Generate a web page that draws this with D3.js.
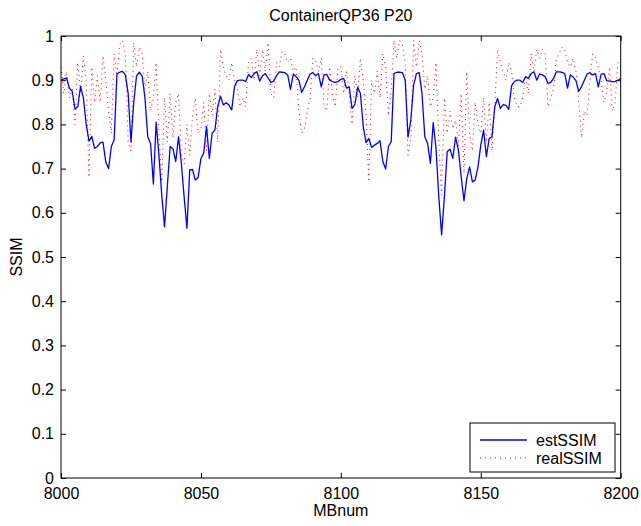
<!DOCTYPE html>
<html>
<head>
<meta charset="utf-8">
<script src="https://cdn.jsdelivr.net/npm/d3@7"></script>
<style>
  html, body { margin: 0; padding: 0; background: #fff; }
  svg text { font-family: "Liberation Sans", Arial, Helvetica, sans-serif; fill: #000; }
</style>
</head>
<body>
<svg id="chart" width="641" height="526"></svg>
<script>
// Macroblock index range
const mbStart = 8000;
const mbEnd = 8200;

// Estimated SSIM per macroblock (8000..8200)
const estSSIM = [
  0.900, 0.903, 0.905, 0.882, 0.875, 0.835, 0.840, 0.886, 0.860, 0.800,
  0.762, 0.773, 0.746, 0.750, 0.758, 0.760, 0.715, 0.700, 0.750, 0.765,
  0.915, 0.918, 0.920, 0.912, 0.870, 0.760, 0.850, 0.910, 0.918, 0.910,
  0.860, 0.772, 0.757, 0.665, 0.805, 0.730, 0.640, 0.568, 0.660, 0.750,
  0.745, 0.716, 0.772, 0.712, 0.636, 0.565, 0.697, 0.698, 0.674, 0.680,
  0.723, 0.735, 0.795, 0.723, 0.780, 0.787, 0.840, 0.864, 0.844, 0.849,
  0.844, 0.833, 0.885, 0.899, 0.900, 0.900, 0.897, 0.913, 0.906, 0.915,
  0.919, 0.898, 0.910, 0.915, 0.905, 0.895, 0.898, 0.910, 0.919, 0.918,
  0.917, 0.912, 0.879, 0.914, 0.908, 0.900, 0.872, 0.885, 0.900, 0.914,
  0.917, 0.910, 0.915, 0.885, 0.912, 0.913, 0.900, 0.897, 0.895, 0.897,
  0.902, 0.904, 0.882, 0.885, 0.836, 0.845, 0.884, 0.870, 0.795, 0.759,
  0.768, 0.748, 0.753, 0.757, 0.763, 0.716, 0.699, 0.750, 0.761, 0.915,
  0.918, 0.918, 0.917, 0.900, 0.771, 0.810, 0.889, 0.915, 0.917, 0.870,
  0.772, 0.757, 0.712, 0.804, 0.746, 0.636, 0.550, 0.636, 0.738, 0.744,
  0.723, 0.771, 0.742, 0.682, 0.627, 0.678, 0.704, 0.670, 0.674, 0.704,
  0.753, 0.787, 0.727, 0.768, 0.772, 0.840, 0.859, 0.836, 0.845, 0.843,
  0.834, 0.887, 0.897, 0.900, 0.900, 0.895, 0.908, 0.904, 0.915, 0.919,
  0.900, 0.914, 0.912, 0.908, 0.893, 0.895, 0.904, 0.919, 0.919, 0.918,
  0.915, 0.882, 0.912, 0.907, 0.899, 0.875, 0.885, 0.900, 0.914, 0.917,
  0.912, 0.915, 0.885, 0.913, 0.915, 0.899, 0.898, 0.897, 0.897, 0.900,
  0.904
];

// Measured SSIM per macroblock (8000..8200)
const realSSIM = [
  0.93, 0.87, 0.92, 0.86, 0.88, 0.80, 0.94, 0.87, 0.955, 0.90,
  0.68, 0.93, 0.85, 0.91, 0.85, 0.955, 0.90, 0.83, 0.78, 0.96,
  0.91, 0.98, 0.99, 0.96, 0.76, 0.74, 0.985, 0.93, 0.975, 0.96,
  0.88, 0.92, 0.83, 0.86, 0.94, 0.78, 0.67, 0.86, 0.76, 0.87,
  0.77, 0.85, 0.87, 0.73, 0.71, 0.80, 0.73, 0.82, 0.86, 0.78,
  0.79, 0.85, 0.74, 0.87, 0.82, 0.88, 0.76, 0.97, 0.93, 0.91,
  0.90, 0.94, 0.90, 0.88, 0.84, 0.86, 0.84, 0.94, 0.95, 0.90,
  0.97, 0.91, 0.97, 0.92, 0.985, 0.87, 0.86, 0.94, 0.93, 0.965,
  0.96, 0.94, 0.95, 0.92, 0.93, 0.83, 0.78, 0.79, 0.83, 0.86,
  0.95, 0.945, 0.92, 0.95, 0.84, 0.83, 0.93, 0.87, 0.84, 0.93,
  0.93, 0.87, 0.92, 0.87, 0.80, 0.91, 0.86, 0.95, 0.90, 0.82,
  0.67, 0.90, 0.87, 0.92, 0.86, 0.96, 0.93, 0.82, 0.88, 0.99,
  0.95, 0.99, 0.98, 0.94, 0.73, 0.77, 0.99, 0.93, 0.99, 0.96,
  0.88, 0.91, 0.84, 0.86, 0.94, 0.76, 0.64, 0.86, 0.78, 0.83,
  0.79, 0.81, 0.75, 0.87, 0.69, 0.92, 0.78, 0.74, 0.85, 0.80,
  0.78, 0.86, 0.76, 0.85, 0.74, 0.84, 0.97, 0.94, 0.92, 0.90,
  0.94, 0.92, 0.86, 0.84, 0.84, 0.86, 0.91, 0.87, 0.96, 0.92,
  0.97, 0.95, 0.97, 0.96, 0.84, 0.86, 0.88, 0.95, 0.96, 0.975,
  0.97, 0.94, 0.93, 0.95, 0.92, 0.85, 0.77, 0.83, 0.82, 0.90,
  0.96, 0.95, 0.93, 0.90, 0.85, 0.87, 0.93, 0.83, 0.85, 0.94,
  0.93
];

// Tick values
const xTicks = [8000, 8050, 8100, 8150, 8200];
const yTicks = [0, 0.1, 0.2, 0.3, 0.4, 0.5, 0.6, 0.7, 0.8, 0.9, 1];

const seriesNames = ["estSSIM", "realSSIM"];

const svg = d3.select("#chart");
const W = 641, H = 526;
const m = { left: 61, right: 20.3, top: 36, bottom: 48 };
const x0 = m.left, x1 = W - m.right, y0 = H - m.bottom, y1 = m.top;

svg.append("rect").attr("width", W).attr("height", H).attr("fill", "#fff");

const x = d3.scaleLinear().domain([mbStart, mbEnd]).range([x0, x1]);
const y = d3.scaleLinear().domain([0, 1]).range([y0, y1]);

const mbNum = d3.range(mbStart, mbEnd + 1);
const tick = 5;
const fontSize = 16;

// Bottom axis (ticks pointing inward)
const gx = svg.append("g").attr("transform", `translate(0,${y0})`)
  .call(d3.axisBottom(x).tickValues(xTicks).tickSizeInner(-tick).tickSizeOuter(0).tickPadding(10).tickFormat(d3.format("d")));
// Top mirror ticks
const gxt = svg.append("g").attr("transform", `translate(0,${y1})`)
  .call(d3.axisTop(x).tickValues(xTicks).tickSizeInner(-tick).tickSizeOuter(0).tickFormat(""));
// Left axis
const gy = svg.append("g").attr("transform", `translate(${x0},0)`)
  .call(d3.axisLeft(y).tickValues(yTicks).tickSizeInner(-tick).tickSizeOuter(0).tickPadding(7).tickFormat(d => d === 0 || d === 1 ? String(d) : d3.format(".1f")(d)));
// Right mirror ticks
const gyr = svg.append("g").attr("transform", `translate(${x1},0)`)
  .call(d3.axisRight(y).tickValues(yTicks).tickSizeInner(-tick).tickSizeOuter(0).tickFormat(""));

[gx, gxt, gy, gyr].forEach(g => {
  g.select(".domain").remove();
  g.selectAll(".tick line").attr("stroke", "#000").attr("stroke-width", 1);
  g.selectAll("text").attr("font-size", fontSize).attr("fill", "#000")
    .style("font-family", "'Liberation Sans', Arial, Helvetica, sans-serif");
});

// Clip for the data lines
svg.append("clipPath").attr("id", "plotClip")
  .append("rect").attr("x", x0).attr("y", y1).attr("width", x1 - x0).attr("height", y0 - y1);

const line = d3.line().x((d, i) => x(mbNum[i])).y(d => y(d));

const plot = svg.append("g").attr("clip-path", "url(#plotClip)");

plot.append("path").datum(realSSIM)
  .attr("d", line).attr("fill", "none")
  .attr("stroke", "#ff0000").attr("stroke-width", 1)
  .attr("stroke-dasharray", "1,4");

plot.append("path").datum(estSSIM)
  .attr("d", line).attr("fill", "none")
  .attr("stroke", "#0000ff").attr("stroke-width", 1.3)
  .attr("stroke-linejoin", "round");

// Frame
svg.append("rect").attr("x", x0).attr("y", y1)
  .attr("width", x1 - x0).attr("height", y0 - y1)
  .attr("fill", "none").attr("stroke", "#000").attr("stroke-width", 1);

// Title and axis labels
svg.append("text").attr("x", (x0 + x1) / 2).attr("y", 21)
  .attr("text-anchor", "middle").attr("font-size", fontSize).text("ContainerQP36 P20");
svg.append("text").attr("x", (x0 + x1) / 2).attr("y", 516)
  .attr("text-anchor", "middle").attr("font-size", fontSize).text("MBnum");
svg.append("text").attr("transform", `translate(22,${(y0 + y1) / 2}) rotate(-90)`)
  .attr("text-anchor", "middle").attr("font-size", fontSize).text("SSIM");

// Legend
const lg = svg.append("g");
const lx = 470, ly = 423, lw = 145, lh = 49;
lg.append("rect").attr("x", lx).attr("y", ly).attr("width", lw).attr("height", lh)
  .attr("fill", "#fff").attr("stroke", "#000").attr("stroke-width", 1);
const legendStyles = [
  { color: "#0000ff", dash: null, width: 1.3 },
  { color: "#ff0000", dash: "1,4", width: 1 }
];
seriesNames.forEach((name, i) => {
  const yy = ly + 17 + i * 18;
  lg.append("line").attr("x1", lx + 10).attr("x2", lx + 57).attr("y1", yy).attr("y2", yy)
    .attr("stroke", legendStyles[i].color).attr("stroke-width", legendStyles[i].width)
    .attr("stroke-dasharray", legendStyles[i].dash);
  lg.append("text").attr("x", lx + 66).attr("y", yy + 6).attr("font-size", fontSize).text(name);
});
</script>
</body>
</html>
